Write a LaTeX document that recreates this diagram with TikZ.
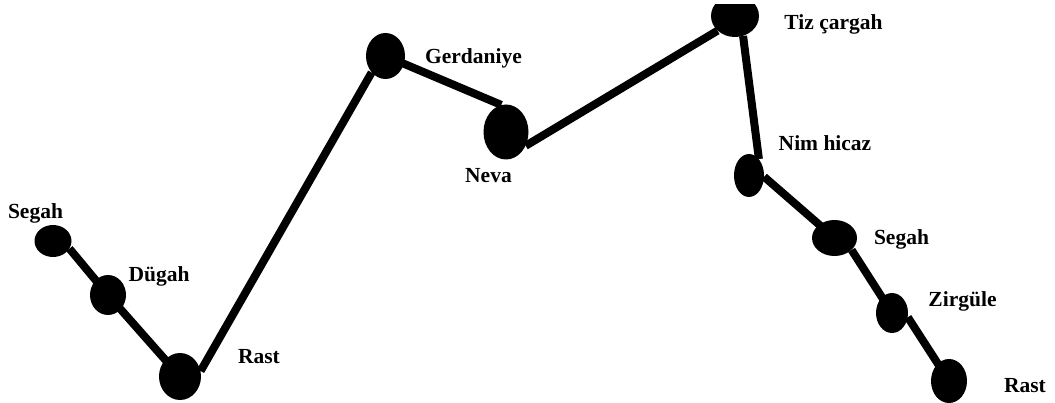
\documentclass[tikz,border=0pt]{standalone}
\usepackage{fontspec}
\setmainfont{Liberation Serif}
\usetikzlibrary{shapes.geometric}
\begin{document}
\begin{tikzpicture}[x=1pt,y=-1pt,
  dot/.style={ellipse,fill=black,draw=none,inner sep=0pt},
  lbl/.style={anchor=base,inner sep=0pt,font=\fontsize{21.5}{24}\selectfont\bfseries},
  link/.style={line width=8pt,black}]
\useasboundingbox[fill=white] (0,0) rectangle (1055,403);
% notes
\node[dot,minimum width=37pt,minimum height=32pt] (segL) at (53,241) {};
\node[dot,minimum width=36pt,minimum height=40pt] (dug) at (108,295) {};
\node[dot,minimum width=42pt,minimum height=47pt] (rastL) at (180,376.5) {};
\node[dot,minimum width=39pt,minimum height=46pt] (gerd) at (385.5,56) {};
\node[dot,minimum width=45pt,minimum height=55pt] (neva) at (506,132) {};
\begin{scope}
\clip (690,5) rectangle (780,60);
\node[dot,minimum width=48pt,minimum height=42pt] (tiz) at (735,16) {};
\end{scope}
\node[dot,minimum width=30pt,minimum height=43pt] (nim) at (749,175.5) {};
\node[dot,minimum width=45pt,minimum height=36pt] (segR) at (834.5,238) {};
\node[dot,minimum width=32pt,minimum height=40pt] (zir) at (892,313) {};
\node[dot,minimum width=36pt,minimum height=44pt] (rastR) at (949,381) {};
% connectors
\draw[link] (segL.-25) -- (dug.center);
\draw[link] (dug.center) -- (rastL.center);
\draw[link] (rastL.15) -- (gerd.-130);
\draw[link] (gerd.center) -- (neva.100);
\draw[link] (neva.-35) -- (tiz.-140);
\draw[link] (tiz.-68) -- (nim.59);
\draw[link] (nim.-5) -- (segR.center);
\draw[link] (segR.-35) -- (zir.center);
\draw[link] (zir.-15) -- (rastR.center);
% labels
\node[lbl] (tSegL) at (35.5,219) {Segah};
\node[lbl] (tDug) at (159,282) {Dügah};
\node[lbl] (tRastL) at (259,363) {Rast};
\node[lbl] (tGerd) at (473.5,64) {Gerdaniye};
\node[lbl] (tNeva) at (488.5,183) {Neva};
\node[lbl] (tTiz) at (833.5,30) {Tiz çargah};
\node[lbl] (tNim) at (825,151) {Nim hicaz};
\node[lbl] (tSegR) at (901.5,245) {Segah};
\node[lbl] (tZir) at (962.5,307) {Zirgüle};
\node[lbl] (tRastR) at (1025,392) {Rast};
\end{tikzpicture}
\end{document}
